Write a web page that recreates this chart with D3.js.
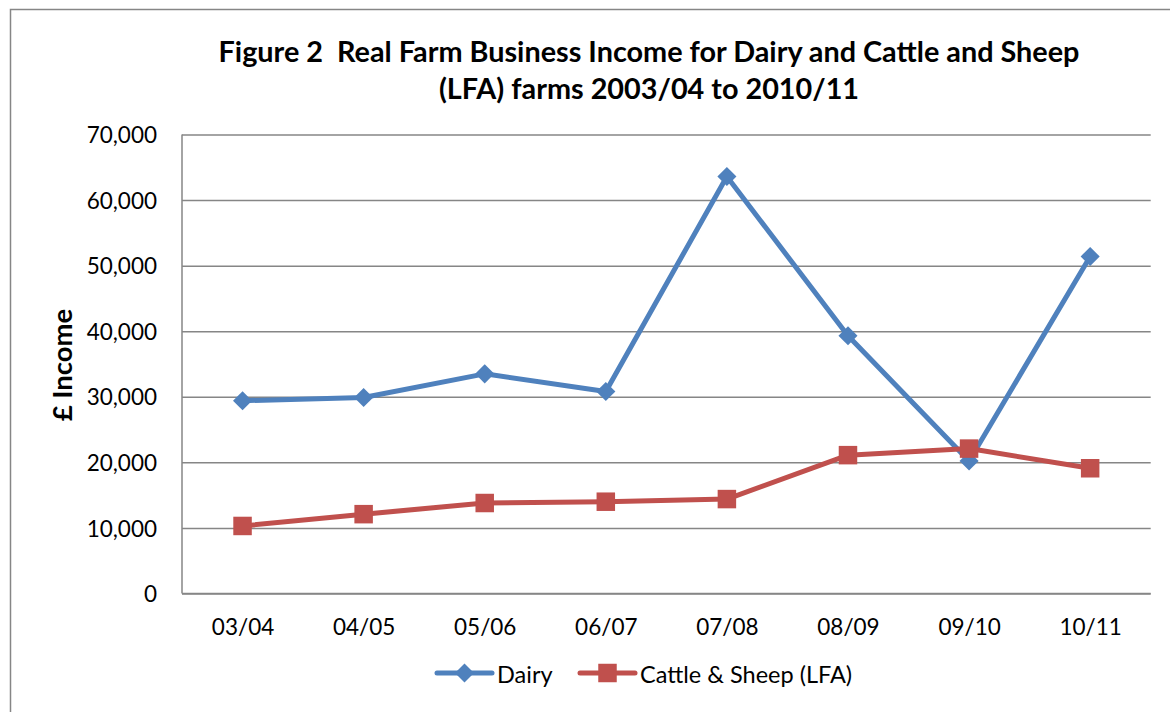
<!DOCTYPE html>
<html>
<head>
<meta charset="utf-8">
<script src="https://cdn.jsdelivr.net/npm/d3@7"></script>
<style>
  html, body { margin: 0; padding: 0; background: #fff; }
  svg { display: block; font-family: Lato, "Open Sans", sans-serif; }
  .axis { font-family: Lato, "Open Sans", sans-serif; }
  .axis text { fill: #000; font-size: 22.5px; }
  .axis .domain { display: none; }
  .title { white-space: pre; }
</style>
</head>
<body>
<svg id="chart" width="1170" height="712"></svg>
<script>
// data
const seasons = ['03/04', '04/05', '05/06', '06/07', '07/08', '08/09', '09/10', '10/11'];
const dairy = [29400, 29900, 33500, 30800, 63600, 39300, 20200, 51400];
const cattleSheep = [10300, 12100, 13800, 14000, 14400, 21100, 22100, 19100];
const yTicks = [0, 10000, 20000, 30000, 40000, 50000, 60000, 70000];
const titleLines = ['Figure 2  Real Farm Business Income for Dairy and Cattle and Sheep',
                    '(LFA) farms 2003/04 to 2010/11'];

const W = 1170, H = 712;
const M = { top: 134.5, right: 19.3, bottom: 118.5, left: 182 };
const GRID = '#868686';
const series = [
  { name: 'Dairy', values: dairy, color: '#4F81BD', shape: 'diamond' },
  { name: 'Cattle & Sheep (LFA)', values: cattleSheep, color: '#C0504D', shape: 'square' }
];

const svg = d3.select('#chart');

// outer chart frame (runs off right/bottom edge)
svg.append('rect').attr('x', 10.5).attr('y', 9.5).attr('width', 1300).attr('height', 900)
  .attr('fill', 'none').attr('stroke', GRID).attr('stroke-width', 1.5);

const x = d3.scalePoint().domain(seasons).range([M.left, W - M.right]).padding(0.5);
const y = d3.scaleLinear().domain([0, 70000]).range([H - M.bottom, M.top]);

// title
svg.append('text').attr('class', 'title').attr('text-anchor', 'middle')
  .style('font-weight', 700).style('font-size', '28.8px')
  .selectAll('tspan').data(titleLines).join('tspan')
  .attr('x', 649).attr('y', (d, i) => 62 + i * 37).text(d => d);

// y axis with gridlines
const gy = svg.append('g').attr('class', 'axis')
  .attr('transform', `translate(${M.left},0)`)
  .call(d3.axisLeft(y).tickValues(yTicks).tickFormat(d3.format(',')).tickSize(-(W - M.right - M.left)).tickPadding(25));
gy.selectAll('.tick line').attr('stroke', GRID).attr('stroke-width', 1.5);
gy.selectAll('.tick text').attr('dy', '0.36em');

// x axis labels
const gx = svg.append('g').attr('class', 'axis')
  .attr('transform', `translate(0,${H - M.bottom})`)
  .call(d3.axisBottom(x).tickSize(0).tickPadding(26));
gx.selectAll('.tick text').attr('dy', '0.71em');

// axis lines
svg.append('line').attr('x1', M.left).attr('x2', M.left).attr('y1', M.top).attr('y2', H - M.bottom)
  .attr('stroke', GRID).attr('stroke-width', 1.5);
svg.append('line').attr('x1', M.left).attr('x2', W - M.right).attr('y1', H - M.bottom).attr('y2', H - M.bottom)
  .attr('stroke', GRID).attr('stroke-width', 1.5);

// y axis title
svg.append('text').attr('transform', `translate(72,365) rotate(-90)`)
  .attr('text-anchor', 'middle').style('font-weight', 700).style('font-size', '27.5px').text('£ Income');

const markerPath = shape => shape === 'square'
  ? d3.symbol(d3.symbolSquare, 18.5 * 18.5)()
  : d3.symbol(d3.symbolSquare, 13.5 * 13.5)();
const markerRot = shape => shape === 'square' ? 0 : 45;

const line = d3.line().x((d, i) => x(seasons[i])).y(d => y(d));

series.forEach(s => {
  svg.append('path').datum(s.values).attr('d', line)
    .attr('fill', 'none').attr('stroke', s.color).attr('stroke-width', 5).attr('stroke-linejoin', 'round');
  svg.selectAll(null).data(s.values).enter().append('path')
    .attr('d', markerPath(s.shape)).attr('fill', s.color)
    .attr('transform', (d, i) => `translate(${x(seasons[i])},${y(d)}) rotate(${markerRot(s.shape)})`);
});

// legend
const legendX = [437, 580];
const leg = svg.selectAll('.legend').data(series).join('g').attr('class', 'legend')
  .attr('transform', (d, i) => `translate(${legendX[i]},673)`);
leg.append('line').attr('x1', 0).attr('x2', 55).attr('stroke', d => d.color)
  .attr('stroke-width', 5).attr('stroke-linecap', 'round');
leg.append('path').attr('d', d => markerPath(d.shape)).attr('fill', d => d.color)
  .attr('transform', d => `translate(27.5,0) rotate(${markerRot(d.shape)})`);
leg.append('text').attr('x', 60).attr('y', 10).style('font-size', '23.5px').text(d => d.name);
</script>
</body>
</html>
